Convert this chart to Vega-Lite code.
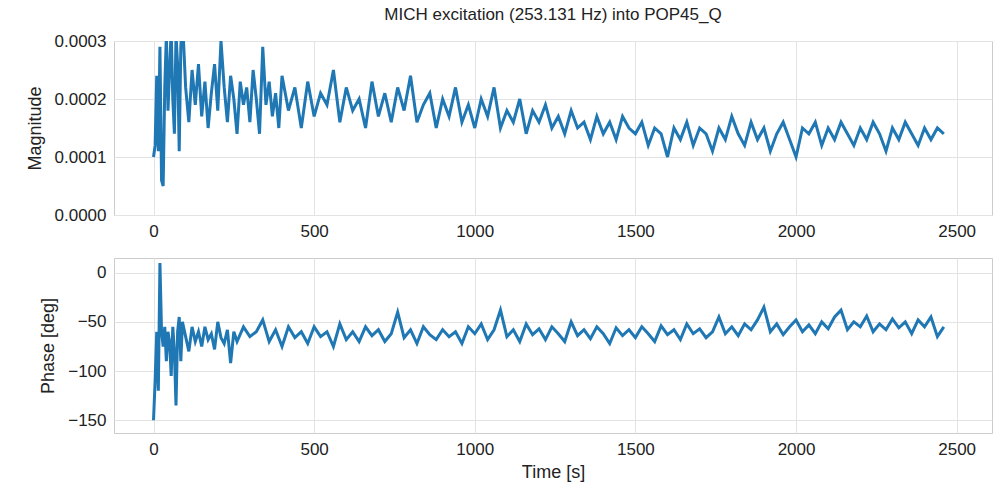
{
  "$schema": "https://vega.github.io/schema/vega-lite/v6.json",
  "padding": {"left": 25, "top": 5, "right": 5, "bottom": 5},
  "background": "white",
  "config": {
    "font": "Liberation Sans",
    "view": {"stroke": "#cccccc", "strokeWidth": 1},
    "axis": {"domain": false, "ticks": false, "gridColor": "#e3e3e3", "labelFontSize": 17, "labelColor": "#222", "titleFontSize": 18, "titleFontWeight": "normal", "titleColor": "#222", "labelPadding": 8},
    "concat": {"spacing": 17}
  },
  "datasets": {
    "mag": [
      {"t":0,"v":0.00010},{"t":5,"v":0.00012},{"t":10,"v":0.00024},{"t":15,"v":0.00011},{"t":20,"v":0.00029},{"t":25,"v":0.00006},{"t":30,"v":0.00005},{"t":35,"v":0.00022},{"t":40,"v":0.00031},{"t":45,"v":0.00018},{"t":50,"v":0.00025},{"t":55,"v":0.00032},{"t":60,"v":0.00020},{"t":65,"v":0.00014},{"t":70,"v":0.00031},{"t":75,"v":0.00026},{"t":80,"v":0.00011},{"t":85,"v":0.00029},{"t":90,"v":0.00034},{"t":100,"v":0.00022},{"t":110,"v":0.00016},{"t":120,"v":0.00025},{"t":130,"v":0.00019},{"t":140,"v":0.00026},{"t":150,"v":0.00017},{"t":160,"v":0.00023},{"t":170,"v":0.00015},{"t":180,"v":0.00021},{"t":190,"v":0.00026},{"t":200,"v":0.00018},{"t":210,"v":0.00030},{"t":220,"v":0.00022},{"t":230,"v":0.00016},{"t":240,"v":0.00024},{"t":250,"v":0.00020},{"t":260,"v":0.00014},{"t":270,"v":0.00023},{"t":280,"v":0.00019},{"t":290,"v":0.00022},{"t":300,"v":0.00016},{"t":310,"v":0.00025},{"t":320,"v":0.00020},{"t":330,"v":0.00014},{"t":340,"v":0.00029},{"t":350,"v":0.00019},{"t":360,"v":0.00023},{"t":370,"v":0.00017},{"t":380,"v":0.00021},{"t":390,"v":0.00015},{"t":400,"v":0.00024},{"t":420,"v":0.00018},{"t":440,"v":0.00022},{"t":460,"v":0.00015},{"t":480,"v":0.00023},{"t":500,"v":0.00017},{"t":520,"v":0.00021},{"t":540,"v":0.00019},{"t":560,"v":0.00025},{"t":580,"v":0.00016},{"t":600,"v":0.00022},{"t":620,"v":0.00018},{"t":640,"v":0.00020},{"t":660,"v":0.00015},{"t":680,"v":0.00023},{"t":700,"v":0.00017},{"t":720,"v":0.00021},{"t":740,"v":0.00016},{"t":760,"v":0.00022},{"t":780,"v":0.00018},{"t":800,"v":0.00024},{"t":820,"v":0.00016},{"t":840,"v":0.00019},{"t":860,"v":0.00021},{"t":880,"v":0.00015},{"t":900,"v":0.00020},{"t":920,"v":0.00017},{"t":940,"v":0.00022},{"t":960,"v":0.00016},{"t":980,"v":0.00019},{"t":1000,"v":0.00015},{"t":1020,"v":0.00020},{"t":1040,"v":0.00017},{"t":1060,"v":0.00022},{"t":1080,"v":0.00015},{"t":1100,"v":0.00018},{"t":1120,"v":0.00016},{"t":1140,"v":0.00020},{"t":1160,"v":0.00014},{"t":1180,"v":0.00018},{"t":1200,"v":0.00016},{"t":1220,"v":0.00019},{"t":1240,"v":0.00015},{"t":1260,"v":0.00017},{"t":1280,"v":0.00014},{"t":1300,"v":0.00018},{"t":1320,"v":0.00015},{"t":1340,"v":0.00016},{"t":1360,"v":0.00013},{"t":1380,"v":0.00017},{"t":1400,"v":0.00014},{"t":1420,"v":0.00016},{"t":1440,"v":0.00013},{"t":1460,"v":0.00017},{"t":1480,"v":0.00015},{"t":1500,"v":0.00014},{"t":1520,"v":0.00016},{"t":1540,"v":0.00012},{"t":1560,"v":0.00015},{"t":1580,"v":0.00014},{"t":1600,"v":0.00010},{"t":1620,"v":0.00015},{"t":1640,"v":0.00013},{"t":1660,"v":0.00016},{"t":1680,"v":0.00012},{"t":1700,"v":0.00015},{"t":1720,"v":0.00014},{"t":1740,"v":0.00011},{"t":1760,"v":0.00015},{"t":1780,"v":0.00013},{"t":1800,"v":0.00017},{"t":1820,"v":0.00014},{"t":1840,"v":0.00012},{"t":1860,"v":0.00016},{"t":1880,"v":0.00013},{"t":1900,"v":0.00015},{"t":1920,"v":0.00011},{"t":1940,"v":0.00014},{"t":1960,"v":0.00016},{"t":1980,"v":0.00013},{"t":2000,"v":0.00010},{"t":2020,"v":0.00015},{"t":2040,"v":0.00014},{"t":2060,"v":0.00016},{"t":2080,"v":0.00012},{"t":2100,"v":0.00015},{"t":2120,"v":0.00013},{"t":2140,"v":0.00016},{"t":2160,"v":0.00014},{"t":2180,"v":0.00012},{"t":2200,"v":0.00015},{"t":2220,"v":0.00013},{"t":2240,"v":0.00016},{"t":2260,"v":0.00014},{"t":2280,"v":0.00011},{"t":2300,"v":0.00015},{"t":2320,"v":0.00013},{"t":2340,"v":0.00016},{"t":2360,"v":0.00014},{"t":2380,"v":0.00012},{"t":2400,"v":0.00015},{"t":2420,"v":0.00013},{"t":2440,"v":0.00015},{"t":2460,"v":0.00014}
    ],
    "phase": [
      {"t":0,"v":-150},{"t":5,"v":-110},{"t":10,"v":-60},{"t":15,"v":-120},{"t":20,"v":10},{"t":25,"v":-60},{"t":30,"v":-75},{"t":35,"v":-55},{"t":40,"v":-90},{"t":45,"v":-60},{"t":50,"v":-70},{"t":55,"v":-105},{"t":60,"v":-55},{"t":65,"v":-80},{"t":70,"v":-135},{"t":75,"v":-60},{"t":80,"v":-45},{"t":85,"v":-90},{"t":90,"v":-50},{"t":100,"v":-65},{"t":110,"v":-80},{"t":120,"v":-55},{"t":130,"v":-70},{"t":140,"v":-60},{"t":150,"v":-75},{"t":160,"v":-55},{"t":170,"v":-68},{"t":180,"v":-62},{"t":190,"v":-78},{"t":200,"v":-50},{"t":210,"v":-66},{"t":220,"v":-72},{"t":230,"v":-58},{"t":240,"v":-92},{"t":250,"v":-60},{"t":260,"v":-70},{"t":280,"v":-55},{"t":300,"v":-65},{"t":320,"v":-60},{"t":340,"v":-48},{"t":360,"v":-70},{"t":380,"v":-58},{"t":400,"v":-75},{"t":420,"v":-55},{"t":440,"v":-66},{"t":460,"v":-60},{"t":480,"v":-72},{"t":500,"v":-55},{"t":520,"v":-65},{"t":540,"v":-60},{"t":560,"v":-75},{"t":580,"v":-52},{"t":600,"v":-68},{"t":620,"v":-60},{"t":640,"v":-70},{"t":660,"v":-55},{"t":680,"v":-64},{"t":700,"v":-58},{"t":720,"v":-70},{"t":740,"v":-62},{"t":760,"v":-40},{"t":780,"v":-66},{"t":800,"v":-58},{"t":820,"v":-72},{"t":840,"v":-55},{"t":860,"v":-63},{"t":880,"v":-68},{"t":900,"v":-58},{"t":920,"v":-65},{"t":940,"v":-60},{"t":960,"v":-72},{"t":980,"v":-55},{"t":1000,"v":-62},{"t":1020,"v":-52},{"t":1040,"v":-68},{"t":1060,"v":-58},{"t":1080,"v":-38},{"t":1100,"v":-65},{"t":1120,"v":-58},{"t":1140,"v":-70},{"t":1160,"v":-52},{"t":1180,"v":-63},{"t":1200,"v":-57},{"t":1220,"v":-68},{"t":1240,"v":-55},{"t":1260,"v":-62},{"t":1280,"v":-70},{"t":1300,"v":-50},{"t":1320,"v":-64},{"t":1340,"v":-58},{"t":1360,"v":-67},{"t":1380,"v":-55},{"t":1400,"v":-62},{"t":1420,"v":-72},{"t":1440,"v":-56},{"t":1460,"v":-64},{"t":1480,"v":-58},{"t":1500,"v":-66},{"t":1520,"v":-55},{"t":1540,"v":-62},{"t":1560,"v":-70},{"t":1580,"v":-54},{"t":1600,"v":-63},{"t":1620,"v":-58},{"t":1640,"v":-68},{"t":1660,"v":-52},{"t":1680,"v":-62},{"t":1700,"v":-57},{"t":1720,"v":-66},{"t":1740,"v":-60},{"t":1760,"v":-45},{"t":1780,"v":-62},{"t":1800,"v":-55},{"t":1820,"v":-64},{"t":1840,"v":-52},{"t":1860,"v":-58},{"t":1880,"v":-48},{"t":1900,"v":-35},{"t":1920,"v":-60},{"t":1940,"v":-52},{"t":1960,"v":-63},{"t":1980,"v":-55},{"t":2000,"v":-48},{"t":2020,"v":-60},{"t":2040,"v":-53},{"t":2060,"v":-62},{"t":2080,"v":-50},{"t":2100,"v":-57},{"t":2120,"v":-45},{"t":2140,"v":-38},{"t":2160,"v":-58},{"t":2180,"v":-50},{"t":2200,"v":-55},{"t":2220,"v":-44},{"t":2240,"v":-60},{"t":2260,"v":-52},{"t":2280,"v":-58},{"t":2300,"v":-47},{"t":2320,"v":-56},{"t":2340,"v":-50},{"t":2360,"v":-62},{"t":2380,"v":-48},{"t":2400,"v":-55},{"t":2420,"v":-45},{"t":2440,"v":-65},{"t":2460,"v":-55}
    ]
  },
  "vconcat": [
    {
      "width": 878, "height": 174,
      "title": {"text": "MICH excitation (253.131 Hz) into POP45_Q", "fontSize": 17, "fontWeight": "normal", "color": "#222", "offset": 8},
      "data": {"name": "mag"},
      "mark": {"type": "line", "color": "#1f77b4", "strokeWidth": 3, "clip": true},
      "encoding": {
        "x": {"field": "t", "type": "quantitative", "title": null, "scale": {"domain": [-123, 2610], "nice": false}, "axis": {"values": [0, 500, 1000, 1500, 2000, 2500], "format": "d"}},
        "y": {"field": "v", "type": "quantitative", "title": "Magnitude", "scale": {"domain": [0, 0.0003], "nice": false}, "axis": {"values": [0, 0.0001, 0.0002, 0.0003], "format": ".4f", "titlePadding": 10}}
      }
    },
    {
      "width": 878, "height": 175,
      "data": {"name": "phase"},
      "mark": {"type": "line", "color": "#1f77b4", "strokeWidth": 3, "clip": true},
      "encoding": {
        "x": {"field": "t", "type": "quantitative", "title": "Time [s]", "scale": {"domain": [-123, 2610], "nice": false}, "axis": {"values": [0, 500, 1000, 1500, 2000, 2500], "format": "d", "titlePadding": 6}},
        "y": {"field": "v", "type": "quantitative", "title": "Phase [deg]", "scale": {"domain": [-163, 15], "nice": false}, "axis": {"values": [-150, -100, -50, 0], "titlePadding": 10}}
      }
    }
  ]
}
